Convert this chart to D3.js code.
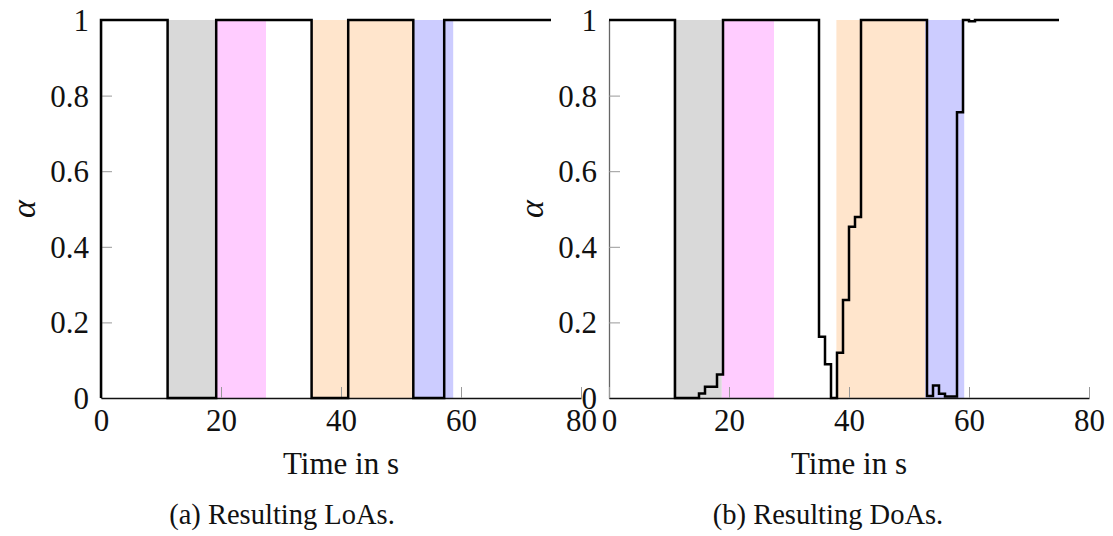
<!DOCTYPE html>
<html>
<head>
<meta charset="utf-8">
<script src="https://cdn.jsdelivr.net/npm/d3@7"></script>
<style>
  html, body { margin: 0; padding: 0; background: #fff; }
  svg { display: block; }
  .serif { font-family: 'Liberation Serif'; fill: #111; }
</style>
</head>
<body>
<svg id="fig" width="1113" height="536"></svg>
<script>
// Axis ticks
const xTicks = [0, 20, 40, 60, 80];
const yTicks = [0, 0.2, 0.4, 0.6, 0.8, 1];

// (a) Level of automation over time (step signal)
const loaTime  = [0, 0, 11.1, 19.2, 35.1, 41.2, 52.05, 57.2, 75];
const loaValue = [0, 1, 0,    1,    0,    1,    0,     1,    1];

// (b) Degree of automation over time (step signal)
const doaTime  = [0, 11, 15,    16,   18,    19, 35,    36,    37, 38,   39,    40,    41,    42, 53,    54,    55,    56,    58,    59, 60,    61, 75];
const doaValue = [1, 0,  0.012, 0.03, 0.062, 1,  0.162, 0.089, 0,  0.12, 0.259, 0.453, 0.479, 1,  0.005, 0.033, 0.011, 0.004, 0.756, 1,  0.997, 1,  1];

// Shaded phases: [start, end] in seconds
const phaseNames   = ["manual", "handover", "assisted", "takeover"];
const phaseColors  = ["#d9d9d9", "#ffccff", "#ffe5cc", "#ccccff"];
const loaPhases = [[11.1, 19.1], [19.1, 27.5], [35.1, 52.0], [52.0, 58.7]];
const doaPhases = [[10.7, 18.8], [18.8, 27.5], [37.9, 52.7], [52.7, 59.2]];

const captions = ["(a) Resulting LoAs.", "(b) Resulting DoAs."];

const svg = d3.select("#fig");

function panel(originX, times, values, phases, caption, captionX) {
  const x = d3.scaleLinear().domain([0, 80]).range([originX, originX + 480]);
  const y = d3.scaleLinear().domain([0, 1]).range([398, 20]);
  const g = svg.append("g");

  // phase bands
  g.selectAll("rect.band")
    .data(phases.map((p, i) => ({ p, c: phaseColors[i], n: phaseNames[i] })))
    .join("rect")
    .attr("class", "band")
    .attr("x", d => x(d.p[0]))
    .attr("width", d => x(d.p[1]) - x(d.p[0]))
    .attr("y", y(1))
    .attr("height", y(0) - y(1))
    .attr("fill", d => d.c);

  // y axis, ticks pointing inward
  const ya = g.append("g")
    .attr("transform", `translate(${x(0)},0)`)
    .call(d3.axisLeft(y).tickValues(yTicks).tickFormat(d3.format("~g"))
      .tickSizeInner(-11).tickSizeOuter(0).tickPadding(12))
    .attr("font-family", null).attr("font-size", null);
  ya.select(".domain").attr("stroke", "#666").attr("stroke-width", 1.3);
  ya.selectAll(".tick line").attr("stroke", "#999").attr("stroke-width", 1);
  ya.selectAll(".tick text").attr("class", "serif").attr("font-size", 31)
    .attr("fill", null).attr("dy", "0.34em");

  // x axis, ticks pointing inward
  const xa = g.append("g")
    .attr("transform", `translate(0,${y(0)})`)
    .call(d3.axisBottom(x).tickValues(xTicks)
      .tickSizeInner(-11).tickSizeOuter(0).tickPadding(0))
    .attr("font-family", null).attr("font-size", null);
  xa.select(".domain").attr("stroke", "#111").attr("stroke-width", 1.3);
  xa.selectAll(".tick line").attr("stroke", "#999").attr("stroke-width", 1);
  xa.selectAll(".tick text").attr("class", "serif").attr("font-size", 31)
    .attr("fill", null).attr("dy", null).attr("y", 33);

  // signal
  const pts = times.map((t, i) => [t, values[i]]);
  g.append("path")
    .datum(pts)
    .attr("fill", "none")
    .attr("stroke", "#000")
    .attr("stroke-width", 2.5)
    .attr("stroke-linejoin", "miter")
    .attr("d", d3.line().x(d => x(d[0])).y(d => y(d[1])).curve(d3.curveStepAfter));

  // axis labels
  g.append("text")
    .attr("class", "serif")
    .attr("x", x(40)).attr("y", 474)
    .attr("text-anchor", "middle").attr("font-size", 31)
    .text("Time in s");
  g.append("text")
    .attr("class", "serif")
    .attr("transform", `translate(${x(0) - 76},${y(0.5)}) rotate(-90)`)
    .attr("text-anchor", "middle").attr("dy", "0.3em")
    .attr("font-size", 34).attr("font-style", "italic")
    .text("α");

  // caption
  g.append("text")
    .attr("class", "serif")
    .attr("x", captionX).attr("y", 524)
    .attr("text-anchor", "middle").attr("font-size", 28.5)
    .text(caption);
}

panel(101, loaTime, loaValue, loaPhases, captions[0], 282);
panel(609, doaTime, doaValue, doaPhases, captions[1], 828);
</script>
</body>
</html>
